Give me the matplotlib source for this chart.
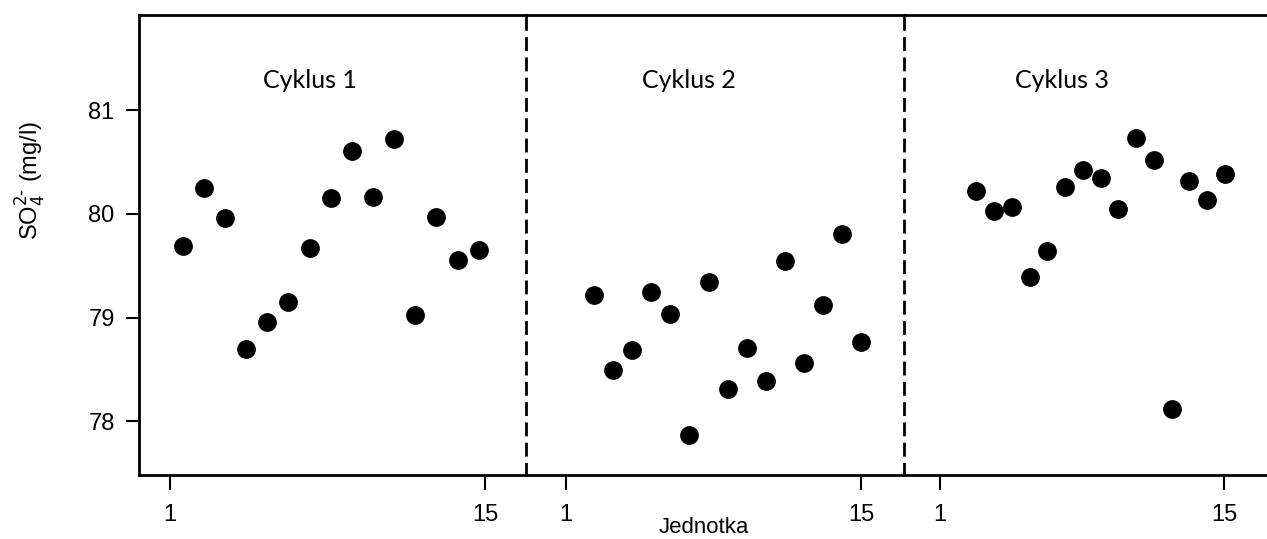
import matplotlib.pyplot as plt

# Data: SO4 concentration for 15 units in three cycles
units = list(range(1, 16))
cyklus1 = [79.69, 80.25, 79.96, 78.70, 78.96, 79.15, 79.67, 80.15, 80.61, 80.16,
           80.72, 79.02, 79.97, 79.56, 79.65]
cyklus2 = [79.22, 78.49, 78.69, 79.25, 79.03, 77.87, 79.34, 78.31, 78.71, 78.39,
           79.55, 78.56, 79.12, 79.81, 78.76]
cyklus3 = [80.22, 80.03, 80.07, 79.39, 79.64, 80.26, 80.42, 80.35, 80.05, 80.73,
           80.52, 78.12, 80.32, 80.13, 80.39]
series = [cyklus1, cyklus2, cyklus3]
titles = ["Cyklus 1", "Cyklus 2", "Cyklus 3"]
tick_labels = ["1", "15"]

plt.rcParams['font.family'] = ['Liberation Sans', 'DejaVu Sans']

W, H = 1267, 539
fig = plt.figure(figsize=(W / 100, H / 100), dpi=100)

# panel geometry (pixels) and x-ranges so the dots sit where they do in the original
edges = [139, 526, 904, 1267]
xlims = [(-1.07, 17.24), (-2.56, 17.24), (-3.07, 17.37)]
tick_pos = [(0.40, 15.3), (-0.47, 15.0), (-1.04, 14.95)]
title_x = [7.0, 6.0, 5.8]
y_bot, y_top = 475, 15

for i in range(3):
    left = edges[i] / W
    width = (edges[i + 1] - edges[i]) / W
    ax = fig.add_axes([left, (H - y_bot) / H, width, (y_bot - y_top) / H])
    ax.patch.set_visible(False)  # don't paint over the neighbour's dashed edge
    ax.plot(units, series[i], 'o', color='black', markersize=12.5)
    ax.set_xlim(*xlims[i])
    ax.set_ylim(77.48, 81.92)
    ax.set_xticks(tick_pos[i])
    ax.set_xticklabels(tick_labels)
    ax.tick_params(axis='x', direction='out', length=11, width=1.5,
                   labelsize=17, pad=10)
    ax.text(title_x[i], 81.29, titles[i], ha='center', va='center',
            fontsize=18, family=['Lato', 'DejaVu Sans'])
    for s in ['top', 'bottom']:
        ax.spines[s].set_linewidth(2)
    ax.spines['left'].set_visible(False)
    if i < 2:
        ax.spines['right'].set_linestyle((0, (4, 3.3)))
        ax.spines['right'].set_linewidth(2)
    else:
        ax.spines['right'].set_visible(False)
    if i == 0:
        ax.spines['left'].set_visible(True)
        ax.spines['left'].set_linewidth(2)
        ax.set_yticks([78, 79, 80, 81])
        ax.tick_params(axis='y', direction='out', length=9.5, width=1.5,
                       labelsize=17, pad=8)
    else:
        ax.set_yticks([])

fig.text(31 / W, 1 - 180 / H, r"SO$_4^{2\text{-}}$ (mg/l)",
         rotation=90, ha='center', va='center', fontsize=17)
fig.text(704 / W, 1 - 533 / H, "Jednotka", ha='center', va='baseline', fontsize=16)

fig.savefig("out.png", dpi=100)
